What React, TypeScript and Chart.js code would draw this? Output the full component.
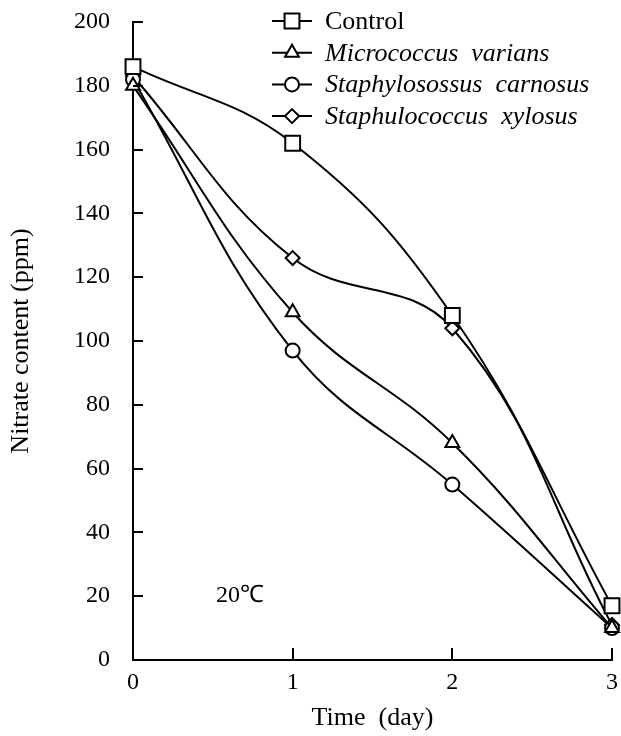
import React, { useEffect, useRef } from "react";
import { Chart, registerables } from "chart.js";
import { drawPoint } from "chart.js/helpers";

Chart.register(...registerables);

const days = [0, 1, 2, 3];
const control = [186, 162, 108, 17];
const micrococcus = [180, 109, 68, 10];
const carnosus = [182, 97, 55, 10];
const xylosus = [183, 126, 104, 11];
const seriesLabels = [
  "Control",
  "Micrococcus  varians",
  "Staphylosossus  carnosus",
  "Staphulococcus  xylosus",
];
const seriesItalic = [false, true, true, true];
const pointStyles = ["rect", "triangle", "circle", "rectRot"];
const pointSizes = [10.5, 8, 7, 7];
const yTicks = [20, 40, 60, 80, 100, 120, 140, 160, 180, 200];
const xTicks = [1, 2, 3];
const note = "20℃";

const FONT = "'Liberation Serif', 'Times New Roman', serif";

const toPoints = (vals: number[]) => vals.map((v, i) => ({ x: days[i], y: v }));

const customPlugin = {
  id: "custom",
  afterDraw(chart: any) {
    const ctx = chart.ctx;
    const xs = chart.scales.x;
    const ys = chart.scales.y;
    const area = chart.chartArea;
    ctx.save();
    ctx.strokeStyle = "#000";
    ctx.lineWidth = 2;
    yTicks.forEach((v) => {
      const py = Math.round(ys.getPixelForValue(v));
      ctx.beginPath();
      ctx.moveTo(area.left, py);
      ctx.lineTo(area.left + 10, py);
      ctx.stroke();
    });
    xTicks.forEach((v) => {
      const px = Math.round(xs.getPixelForValue(v));
      ctx.beginPath();
      ctx.moveTo(px, area.bottom);
      ctx.lineTo(px, area.bottom - 12);
      ctx.stroke();
    });
    ctx.fillStyle = "#000";
    ctx.font = `24px ${FONT}`;
    ctx.textAlign = "center";
    ctx.textBaseline = "middle";
    ctx.fillText(note, xs.getPixelForValue(0.67), ys.getPixelForValue(20));
    const lx0 = 272;
    const lx1 = 312;
    const ly0 = 21;
    const dy = 31.7;
    chart.data.datasets.forEach((ds: any, i: number) => {
      const y = ly0 + i * dy;
      ctx.strokeStyle = "#000";
      ctx.lineWidth = 2;
      ctx.beginPath();
      ctx.moveTo(lx0, y);
      ctx.lineTo(lx1, y);
      ctx.stroke();
      ctx.fillStyle = "#fff";
      drawPoint(
        ctx,
        { pointStyle: ds.pointStyle, radius: ds.pointRadius, rotation: 0, borderWidth: 2 },
        (lx0 + lx1) / 2,
        y
      );
      ctx.fillStyle = "#000";
      ctx.font = `${seriesItalic[i] ? "italic " : ""}26px ${FONT}`;
      ctx.textAlign = "left";
      ctx.textBaseline = "middle";
      ctx.fillText(seriesLabels[i], 325, y + 1);
    });
    ctx.restore();
  },
};

export default function App() {
  const ref = useRef<HTMLCanvasElement | null>(null);
  useEffect(() => {
    document.body.style.margin = "0";
    const all = [control, micrococcus, carnosus, xylosus];
    const chart = new Chart(ref.current as HTMLCanvasElement, {
      type: "line",
      data: {
        datasets: all.map((vals, i) => ({
          label: seriesLabels[i],
          data: toPoints(vals),
          borderColor: "#000",
          borderWidth: 2,
          backgroundColor: "#fff",
          pointStyle: pointStyles[i] as any,
          pointRadius: pointSizes[i],
          pointBorderWidth: 2,
          pointBackgroundColor: "#fff",
          pointBorderColor: "#000",
          tension: 0.4,
          fill: false,
          clip: false as any,
        })),
      },
      options: {
        animation: false,
        responsive: false,
        maintainAspectRatio: false,
        layout: { autoPadding: false, padding: { top: 22, right: 9, left: 0, bottom: 0 } },
        plugins: {
          legend: { display: false },
          tooltip: { enabled: false },
        },
        scales: {
          x: {
            type: "linear",
            min: 0,
            max: 3,
            grid: { display: false, drawTicks: false },
            border: { display: true, color: "#000", width: 2 },
            ticks: {
              stepSize: 1,
              padding: 8,
              color: "#000",
              font: { family: FONT, size: 24 },
            },
            title: {
              display: true,
              text: "Time  (day)",
              color: "#000",
              font: { family: FONT, size: 26 },
              padding: { top: 0, bottom: 2 },
            },
            afterFit: (s: any) => {
              s.height = 76;
              s.paddingLeft = 0;
              s.paddingRight = 0;
            },
          },
          y: {
            type: "linear",
            min: 0,
            max: 200,
            grid: { display: false, drawTicks: false },
            border: { display: true, color: "#000", width: 2 },
            ticks: {
              stepSize: 20,
              padding: 23,
              color: "#000",
              font: { family: FONT, size: 24 },
            },
            title: {
              display: true,
              text: "Nitrate content (ppm)",
              color: "#000",
              font: { family: FONT, size: 26 },
              padding: { top: 6, bottom: 0 },
            },
            afterFit: (s: any) => {
              s.width = 133;
              s.paddingTop = 0;
              s.paddingBottom = 0;
            },
          },
        },
      },
      plugins: [customPlugin],
    });
    return () => chart.destroy();
  }, []);
  return <canvas ref={ref} width={621} height={736} style={{ display: "block" }} />;
}
